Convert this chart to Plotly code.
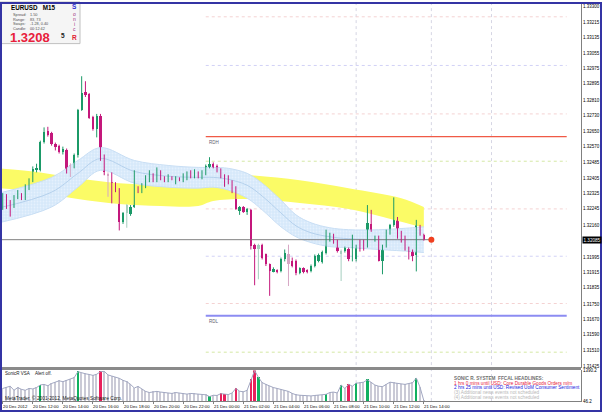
import plotly.graph_objects as go

W, H = 602, 414
def px(x): return x / W
def py(y): return 1 - y / H

# ---------------- DATA ----------------
opens = [1.32248,1.32317,1.32276,1.32256,1.32305,1.32320,1.32308,1.32351,1.32394,1.32446,
         1.32446,1.32591,1.32648,1.32638,1.32583,1.32574,1.32543,1.32552,1.32471,1.32463,
         1.32523,1.32758,1.32852,1.32841,1.32724,1.32660,1.32729,1.32510,1.32429,1.32385,
         1.32373,1.32343,1.32179,1.32224,1.32219,1.32257,1.32351,1.32334,1.32363,1.32394,
         1.32420,1.32394,1.32420,1.32408,1.32394,1.32408,1.32394,1.32403,1.32394,1.32403,
         1.32437,1.32411,1.32432,1.32408,1.32429,1.32463,1.32480,1.32466,1.32449,1.32420,
         1.32411,1.32390,1.32360,1.32236,1.32253,1.32231,1.32240,1.32059,1.32034,1.32059,
         1.32008,1.31956,1.31922,1.31927,1.31922,1.31982,1.32008,1.31973,1.31973,1.31913,
         1.31936,1.31927,1.31922,1.31948,1.31973,1.31968,1.32017,1.32081,1.32106,1.32076,
         1.32013,1.32025,1.32037,1.32042,1.31982,1.32051,1.32054,1.32051,1.32167,1.32081,
         1.32094,1.31973,1.32051,1.32120,1.32162,1.32192,1.32121,1.32099,1.32042,1.32025,
         1.32003,1.32134,1.32111]
highs = [1.32327,1.32322,1.32291,1.32317,1.32343,1.32327,1.32373,1.32404,1.32466,1.32480,
         1.32600,1.32669,1.32672,1.32646,1.32590,1.32579,1.32569,1.32559,1.32482,1.32533,
         1.32765,1.32935,1.32909,1.32847,1.32729,1.32739,1.32739,1.32528,1.32435,1.32435,
         1.32384,1.32353,1.32229,1.32270,1.32265,1.32446,1.32363,1.32379,1.32420,1.32446,
         1.32430,1.32461,1.32446,1.32415,1.32425,1.32415,1.32415,1.32409,1.32430,1.32440,
         1.32446,1.32451,1.32440,1.32446,1.32476,1.32514,1.32487,1.32476,1.32456,1.32425,
         1.32420,1.32394,1.32363,1.32260,1.32260,1.32250,1.32245,1.32064,1.32064,1.32064,
         1.32013,1.31961,1.31941,1.31931,1.31992,1.32034,1.32059,1.31992,1.31982,1.31941,
         1.31941,1.31931,1.31956,1.32008,1.32013,1.32028,1.32137,1.32121,1.32116,1.32085,
         1.32034,1.32049,1.32044,1.32111,1.32059,1.32085,1.32085,1.32265,1.32240,1.32106,
         1.32106,1.32059,1.32137,1.32167,1.32305,1.32203,1.32131,1.32106,1.32049,1.32034,
         1.32188,1.32162,1.32116]
lows = [1.32240,1.32245,1.32205,1.32250,1.32296,1.32291,1.32291,1.32343,1.32384,1.32435,
        1.32440,1.32585,1.32621,1.32574,1.32549,1.32533,1.32528,1.32429,1.32411,1.32456,
        1.32512,1.32755,1.32827,1.32713,1.32652,1.32617,1.32495,1.32420,1.32308,1.32274,
        1.32332,1.32133,1.32167,1.32147,1.32209,1.32250,1.32327,1.32327,1.32353,1.32384,
        1.32384,1.32384,1.32394,1.32384,1.32384,1.32394,1.32373,1.32389,1.32384,1.32394,
        1.32404,1.32404,1.32404,1.32399,1.32420,1.32456,1.32456,1.32435,1.32404,1.32360,
        1.32373,1.32327,1.32240,1.32214,1.32224,1.32214,1.32034,1.31848,1.31879,1.31982,
        1.31948,1.31793,1.31915,1.31910,1.31915,1.31972,1.31844,1.31941,1.31900,1.31905,
        1.31910,1.31910,1.31915,1.31941,1.31967,1.31961,1.32008,1.32075,1.32064,1.32018,
        1.31870,1.32018,1.31973,1.31972,1.31972,1.32023,1.32028,1.32044,1.32126,1.32075,
        1.31972,1.31905,1.32044,1.32111,1.32152,1.32090,1.32070,1.32028,1.31982,1.31973,
        1.31920,1.32106,1.32080]
closes = [1.32317,1.32248,1.32260,1.32308,1.32326,1.32308,1.32363,1.32394,1.32454,1.32457,
          1.32591,1.32643,1.32631,1.32583,1.32569,1.32540,1.32557,1.32454,1.32454,1.32523,
          1.32758,1.32849,1.32835,1.32720,1.32660,1.32729,1.32505,1.32437,1.32415,1.32343,
          1.32343,1.32179,1.32223,1.32265,1.32257,1.32351,1.32334,1.32368,1.32408,1.32420,
          1.32390,1.32446,1.32403,1.32394,1.32411,1.32401,1.32403,1.32394,1.32420,1.32432,
          1.32411,1.32442,1.32415,1.32437,1.32466,1.32480,1.32459,1.32446,1.32411,1.32377,
          1.32380,1.32334,1.32243,1.32253,1.32231,1.32243,1.32054,1.32034,1.32059,1.31991,
          1.31956,1.31922,1.31931,1.31917,1.31982,1.32017,1.31956,1.31948,1.31910,1.31936,
          1.31917,1.31919,1.31948,1.31999,1.32003,1.32020,1.32089,1.32102,1.32071,1.32025,
          1.32025,1.32042,1.31982,1.32054,1.32051,1.32034,1.32037,1.32171,1.32133,1.32094,
          1.31973,1.32051,1.32128,1.32162,1.32192,1.32099,1.32090,1.32037,1.32021,1.32001,
          1.32178,1.32113,1.32085]
faded_bars = [18, 28, 33, 68, 76, 90]

volumes = [600, 650, 700, 520, 640, 560, 520, 600, 580, 640,
           755, 780, 720, 820, 880, 940, 900, 960, 1000, 1080,
           1344, 1280, 1250, 1220, 1180, 1230, 1344, 1360, 1200, 1150,
           1100, 1050, 960, 900, 780, 620, 690, 560, 470, 420,
           450, 470, 440, 420, 400, 380, 420, 400, 370, 350,
           380, 360, 340, 330, 320, 240, 300, 290, 370, 350,
           330, 400, 602, 480, 450, 520, 987, 1390.2, 1098, 860,
           780, 700, 640, 600, 560, 520, 470, 380, 320, 300,
           280, 260, 270, 290, 300, 300, 340, 420, 440, 400,
           755, 600, 786, 700, 834, 850, 880, 987, 880, 750,
           700, 680, 780, 880, 850, 820, 800, 780, 820, 850,
           1066, 650, 60]
vsa_green = [10, 20, 55, 68, 86, 90, 94, 97, 110]
vsa_red = [26, 58, 59, 62, 66, 67, 92]

band_y_bars = [-1, 10, 20, 31, 42, 52, 56, 66, 79, 92, 106, 112]
band_y_upper = [1.32456, 1.32435, 1.32404, 1.32379, 1.32373, 1.32384, 1.32430, 1.32420, 1.32394, 1.32353, 1.32301, 1.32255]
band_y_lower = [1.32353, 1.32332, 1.32296, 1.32270, 1.32260, 1.32260, 1.32286, 1.32296, 1.32276, 1.32245, 1.32178, 1.32147]

band_b_bars = [-1, 13, 20, 26, 35, 44, 52, 56, 60, 65, 69, 74, 78, 82, 87, 92, 100, 109, 112]
band_b_upper = [1.32327, 1.32409, 1.32497, 1.32564, 1.32497, 1.32471, 1.32461, 1.32461, 1.32456, 1.32430,
                1.32379, 1.32291, 1.32214, 1.32173, 1.32147, 1.32137, 1.32137, 1.32147, 1.32152]
band_b_lower = [1.32173, 1.32255, 1.32358, 1.32446, 1.32379, 1.32358, 1.32353, 1.32358, 1.32343, 1.32301,
                1.32240, 1.32152, 1.32100, 1.32070, 1.32049, 1.32044, 1.32034, 1.32023, 1.32018]
band_b_mid = [1.32250, 1.32332, 1.32430, 1.32507, 1.32440, 1.32415, 1.32409, 1.32409, 1.32399, 1.32368,
              1.32312, 1.32224, 1.32157, 1.32121, 1.32100, 1.32090, 1.32085, 1.32085, 1.32085]

pivot_levels = [1.33244, 1.32991, 1.32739, 1.32621, 1.32493, 1.32245, 1.31999, 1.31753, 1.31690, 1.31500]
pivot_kinds = ['pink', 'lav', 'pink', 'RDH', 'green', 'pink', 'lav', 'pink', 'RDL', 'green']
pivot_start, pivot_end = 54, 150

vline_bars = [94, 114, 130]
current_price = 1.32085
marker_bar = 114

price_ticks = [1.33300, 1.33215, 1.33135, 1.33055, 1.32975, 1.32895, 1.32810, 1.32730, 1.32650,
               1.32570, 1.32485, 1.32405, 1.32325, 1.32245, 1.32160, 1.31995, 1.31915, 1.31835,
               1.31750, 1.31670, 1.31590, 1.31510, 1.31425]
vol_ticks = [46.2, 1390.2]

time_bars = [0, 8, 16, 24, 32, 40, 48, 56, 64, 72, 80, 88, 96, 104, 112]
time_labels = ['20 Dec 2012', '20 Dec 12:00', '20 Dec 14:00', '20 Dec 16:00', '20 Dec 18:00',
               '20 Dec 20:00', '20 Dec 22:00', '21 Dec 00:00', '21 Dec 02:00', '21 Dec 04:00',
               '21 Dec 06:00', '21 Dec 08:00', '21 Dec 10:00', '21 Dec 12:00', '21 Dec 14:00']

headlines = [('<b>SONIC R. SYSTEM  FFCAL HEADLINES:</b>', '#707070'),
             ('1 hrs 0 mins until USD: Core Durable Goods Orders m/m', '#e8203c'),
             ('2 hrs 25 mins until USD: Revised UoM Consumer Sentiment', '#2020e0'),
             ('(3) Additional news events not scheduled', '#b8b8b8'),
             ('(4) Additional news events not scheduled', '#b8b8b8')]

# ---------------- FIGURE ----------------
FONT = 'Liberation Sans'
n = len(opens)
idx = list(range(n))
fig = go.Figure()

# yellow band
fig.add_trace(go.Scatter(x=band_y_bars, y=band_y_upper, mode='lines', line=dict(width=0, shape='spline', color='#fbfb66'),
                         hoverinfo='skip', showlegend=False))
fig.add_trace(go.Scatter(x=band_y_bars, y=band_y_lower, mode='lines', line=dict(width=0, shape='spline', color='#fbfb66'),
                         fill='tonexty', fillcolor='#fbfb66', hoverinfo='skip', showlegend=False))
# blue band
fig.add_trace(go.Scatter(x=band_b_bars, y=band_b_upper, mode='lines', line=dict(width=1, shape='spline', color='#c8def4'),
                         hoverinfo='skip', showlegend=False))
fig.add_trace(go.Scatter(x=band_b_bars, y=band_b_lower, mode='lines', line=dict(width=1, shape='spline', color='#c8def4'),
                         fill='tonexty', fillcolor='#d6e8fa',
                         fillpattern=dict(shape='.', bgcolor='#d6e8fa', fgcolor='#f4f9ff', size=3, solidity=0.3),
                         hoverinfo='skip', showlegend=False))
fig.add_trace(go.Scatter(x=band_b_bars, y=band_b_mid, mode='lines', line=dict(width=1, shape='spline', color='#b4d0ec'),
                         hoverinfo='skip', showlegend=False))

# price line
fig.add_trace(go.Scatter(x=[-1, marker_bar], y=[current_price, current_price], mode='lines',
                         line=dict(color='#808080', width=1), hoverinfo='skip', showlegend=False))

# candles
BULL, BEAR = '#1c9a68', '#c4187c'
FBULL, FBEAR = '#a6cfbf', '#d6a6c4'
def ccol(i):
    up = closes[i] >= opens[i]
    if i in faded_bars:
        return FBULL if up else FBEAR
    return BULL if up else BEAR
cols = [ccol(i) for i in idx]
for col in [FBULL, FBEAR, BULL, BEAR]:
    wx, wy = [], []
    for i in idx:
        if cols[i] == col:
            wx += [i, i, None]
            wy += [lows[i], highs[i], None]
    fig.add_trace(go.Scatter(x=wx, y=wy, mode='lines', line=dict(color=col, width=1),
                             hoverinfo='skip', showlegend=False))
base = [min(o, c) for o, c in zip(opens, closes)]
hgt = [max(abs(c - o), 0.000018) for o, c in zip(opens, closes)]
fig.add_trace(go.Bar(x=idx, y=hgt, base=base, width=0.62, marker=dict(color=cols, line=dict(width=0)),
                     hoverinfo='skip', showlegend=False))

# current price marker
fig.add_trace(go.Scatter(x=[marker_bar], y=[current_price], mode='markers',
                         marker=dict(color='#f04020', size=6, line=dict(width=0)), hoverinfo='skip', showlegend=False))

# volume panel
fig.add_trace(go.Bar(x=idx, y=volumes, width=0.4, marker=dict(color='#cacad6', line=dict(width=0)),
                     xaxis='x2', yaxis='y2', hoverinfo='skip', showlegend=False))
fig.add_trace(go.Bar(x=vsa_green, y=[volumes[i] for i in vsa_green], width=0.62,
                     marker=dict(color='#10b060', line=dict(width=0)), xaxis='x2', yaxis='y2',
                     hoverinfo='skip', showlegend=False))
fig.add_trace(go.Bar(x=vsa_red, y=[volumes[i] for i in vsa_red], width=0.62,
                     marker=dict(color='#e8205c', line=dict(width=0)), xaxis='x2', yaxis='y2',
                     hoverinfo='skip', showlegend=False))
fig.add_trace(go.Scatter(x=idx, y=volumes, mode='lines', line=dict(color='#a2a8c2', width=1),
                         xaxis='x2', yaxis='y2', hoverinfo='skip', showlegend=False))

# ---------------- SHAPES ----------------
shapes = []
pstyle = {'pink': ('#f4d2d2', 'dot', 1), 'lav': ('#d2d2f6', 'dot', 1), 'green': ('#d4e8a4', 'dot', 1),
          'RDH': ('#f05a46', 'solid', 1.2), 'RDL': ('#8c8cf2', 'solid', 2)}
for lv, kd in zip(pivot_levels, pivot_kinds):
    c, d, w = pstyle[kd]
    shapes.append(dict(type='line', xref='x', yref='y', x0=pivot_start, x1=pivot_end, y0=lv, y1=lv,
                       line=dict(color=c, dash=d, width=w), layer='below'))
for vb in vline_bars:
    shapes.append(dict(type='line', xref='x', yref='paper', x0=vb, x1=vb, y0=py(403), y1=py(2),
                       line=dict(color='#d6d6e4', dash='dot', width=1), layer='below'))
# panel separator
shapes.append(dict(type='rect', xref='paper', yref='paper', x0=0, x1=px(581), y0=py(371.5), y1=py(368.5),
                   fillcolor='#8a8a8a', line=dict(width=0)))
# info box
shapes.append(dict(type='rect', xref='paper', yref='paper', x0=0, x1=px(80), y0=py(42), y1=py(0),
                   fillcolor='#f5f5f5', line=dict(color='#c0c0c0', width=1)))
# window frame
shapes.append(dict(type='rect', xref='paper', yref='paper', x0=px(1), x1=px(601), y0=py(413), y1=py(1),
                   fillcolor='rgba(0,0,0,0)', line=dict(color='#3434a4', width=2)))

# ---------------- ANNOTATIONS ----------------
ann = []
def txt(x, y, s, size, color='#000000', xanchor='left', **kw):
    ann.append(dict(xref='paper', yref='paper', x=px(x), y=py(y), text=s, showarrow=False,
                    xanchor=xanchor, yanchor='middle', font=dict(family=FONT, size=size, color=color), **kw))

for tb, tl in zip(time_bars, time_labels):
    ann.append(dict(xref='x2', yref='paper', x=tb - 0.4, y=py(408.5), text=tl, showarrow=False,
                    xanchor='left', yanchor='middle', font=dict(family=FONT, size=4.3, color='#000000')))
ann.append(dict(xref='paper', yref='y', x=px(582), y=current_price, text='1.32085', showarrow=False,
                xanchor='left', yanchor='middle', bgcolor='#000000', borderpad=0.5,
                font=dict(family=FONT, size=4.6, color='#ffffff')))
ann.append(dict(xref='x', yref='y', x=pivot_start + 0.3, y=pivot_levels[3], text='RDH', showarrow=False,
                xanchor='left', yanchor='top', yshift=-1, font=dict(family=FONT, size=4.5, color='#606070')))
ann.append(dict(xref='x', yref='y', x=pivot_start + 0.3, y=pivot_levels[8], text='RDL', showarrow=False,
                xanchor='left', yanchor='top', yshift=-1, font=dict(family=FONT, size=4.5, color='#606070')))

txt(9, 6, '<b>EURUSD   M15</b>', 6.3)
for j, (k, v) in enumerate([('Spread:', '1.50'), ('Range:', '83, 73'), ('Swaps:', '-1.28, 0.40'), ('Candle:', '00:12:42')]):
    txt(11, 13.5 + 4.6 * j, k, 3.8, '#505050')
    txt(28, 13.5 + 4.6 * j, v, 3.8, '#505050')
txt(8, 36, '<b>1.3208</b>', 13, '#e8203c')
txt(59, 33.5, '<b>5</b>', 6.5, '#202020')
txt(74, 5, '<b>S</b>', 6.5, '#3030d0', xanchor='center')
for j, ch in enumerate(['o', 'n', 'i', 'c']):
    txt(74, 12 + 5 * j, ch, 5, '#a03080', xanchor='center')
txt(74, 35.5, '<b>R</b>', 6.5, '#e02030', xanchor='center')

txt(3, 375.5, 'SonicR VSA', 4.5, '#202020')
txt(33, 375.5, 'Alert off.', 4.5, '#202020')
txt(3, 400, 'MetaTrader, \u00a9 2001-2012, MetaQuotes Software Corp.', 4.8, '#202020')
for j, (s, c) in enumerate(headlines):
    txt(452, 380 + 4.8 * j, s, 4.7, c)

# ---------------- LAYOUT ----------------
x_lo = -0.72
x_hi = x_lo + 581 / 3.76
fig.update_layout(
    width=W, height=H, autosize=False, margin=dict(l=0, r=0, t=0, b=0),
    paper_bgcolor='#ffffff', plot_bgcolor='#ffffff', barmode='overlay', bargap=0,
    showlegend=False, shapes=shapes, annotations=ann,
    xaxis=dict(domain=[0, px(581)], range=[x_lo, x_hi], anchor='y', showticklabels=False, ticks='',
               showgrid=False, zeroline=False, showline=False),
    yaxis=dict(domain=[py(370), 1], range=[1.314155, 1.33321], side='right', anchor='x',
               tickvals=price_ticks, ticktext=['%.5f' % v for v in price_ticks],
               tickfont=dict(family=FONT, size=4.5, color='#000000'), ticks='', ticklabelstandoff=0,
               showline=True, linecolor='#808080', linewidth=1,
               showgrid=False, zeroline=False),
    xaxis2=dict(domain=[0, px(581)], range=[x_lo, x_hi], anchor='y2', matches='x',
                tickvals=time_bars, showticklabels=False, ticks='outside', ticklen=2, tickcolor='#808080',
                showline=True, linecolor='#808080', linewidth=1, showgrid=False, zeroline=False),
    yaxis2=dict(domain=[py(403), py(372)], range=[40, 1400], side='right', anchor='x2',
                tickvals=vol_ticks, ticktext=['46.2', '1390.2'],
                tickfont=dict(family=FONT, size=4.5, color='#000000'), ticks='', ticklabelstandoff=0,
                showline=True, linecolor='#808080', linewidth=1,
                showgrid=False, zeroline=False),
)

fig.write_html('out.html')
